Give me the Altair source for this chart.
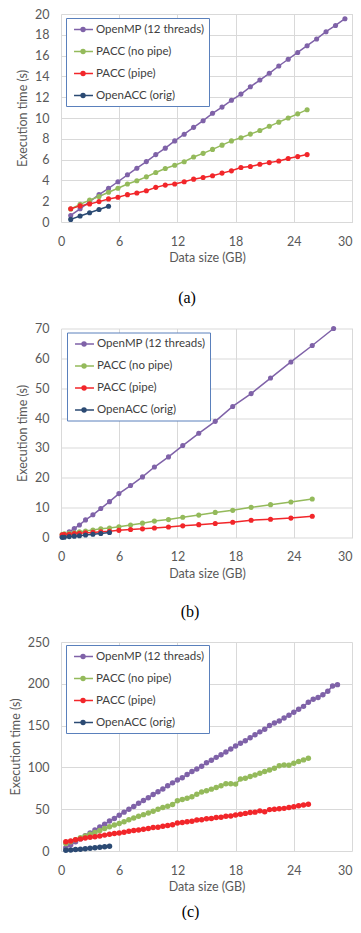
import altair as alt
import pandas as pd

SERIES = ["OpenMP (12 threads)", "PACC (no pipe)", "PACC (pipe)", "OpenACC (orig)"]
COLORS = ["#7F62A8", "#94BA5B", "#F2262A", "#2B4A73"]

# ---------------- panel (a) ----------------
a_x = [1.0, 1.97, 2.95, 3.92, 4.9, 5.87, 6.85, 7.82, 8.8, 9.77, 10.75, 11.72, 12.7, 13.67,
       14.65, 15.62, 16.6, 17.57, 18.55, 19.52, 20.5, 21.47, 22.45, 23.42, 24.4, 25.37,
       26.35, 27.32, 28.3, 29.27]
a_openmp = [0.63, 1.27, 1.96, 2.63, 3.23, 3.87, 4.54, 5.17, 5.81, 6.48, 7.1, 7.8, 8.44, 9.1,
            9.74, 10.45, 11.05, 11.7, 12.3, 13.0, 13.65, 14.3, 15.0, 15.65, 16.3, 16.95,
            17.6, 18.3, 18.9, 19.55]
a_nopipe = [1.25, 1.7, 2.1, 2.45, 2.86, 3.24, 3.65, 3.96, 4.34, 4.76, 5.14, 5.46, 5.8, 6.25,
            6.6, 6.98, 7.39, 7.8, 8.1, 8.45, 8.8, 9.2, 9.6, 10.0, 10.4, 10.8]
a_pipe = [1.27, 1.55, 1.74, 1.96, 2.22, 2.38, 2.63, 2.79, 3.01, 3.33, 3.55, 3.65, 3.87, 4.12,
          4.28, 4.44, 4.7, 4.92, 5.24, 5.33, 5.55, 5.71, 5.87, 6.1, 6.29, 6.48]
a_orig = [0.25, 0.57, 0.89, 1.2, 1.52]

# ---------------- panel (b) ----------------
b_x = [0.12, 0.34, 0.85, 1.37, 1.9, 2.53, 3.29, 4.1, 5.0, 5.97, 7.17, 8.4, 9.63, 11.08,
       12.55, 14.2, 15.9, 17.7, 19.6, 21.6, 23.7, 25.9, 28.1]
b_openmp = [0.3, 0.8, 1.9, 3.0, 4.2, 5.9, 7.6, 9.7, 12.0, 14.7, 17.4, 20.3, 23.6, 27.0,
            30.8, 34.9, 38.9, 43.9, 48.2, 53.4, 58.8, 64.3, 70.0]
b_nopipe = [1.0, 1.2, 1.4, 1.6, 1.9, 2.2, 2.5, 2.9, 3.2, 3.6, 4.2, 4.8, 5.5, 6.0, 6.8, 7.5,
            8.4, 9.1, 10.1, 11.0, 11.9, 12.9]
b_pipe = [0.9, 1.0, 1.1, 1.3, 1.4, 1.6, 1.7, 1.9, 2.1, 2.4, 2.7, 2.9, 3.2, 3.5, 3.9, 4.3,
          4.7, 5.1, 5.8, 6.1, 6.5, 7.1]
b_orig = [0.05, 0.1, 0.3, 0.45, 0.6, 0.85, 1.1, 1.35, 1.65]

# ---------------- panel (c) ----------------
c_x = [0.5, 1.0, 1.5, 2.0, 2.5, 3.0, 3.5, 4.0, 4.5, 5.0, 5.5, 6.0, 6.5, 7.0, 7.5, 8.0, 8.5,
       9.0, 9.5, 10.0, 10.5, 11.0, 11.5, 12.0, 12.5, 13.0, 13.5, 14.0, 14.5, 15.0, 15.5,
       16.0, 16.5, 17.0, 17.5, 18.0, 18.5, 19.0, 19.5, 20.0, 20.5, 21.0, 21.5, 22.0, 22.5,
       23.0, 23.5, 24.0, 24.5, 25.0, 25.5, 26.0, 26.5, 27.0, 27.5, 28.0, 28.5]
c_openmp = [4.0, 7.5, 11.0, 14.5, 18.2, 21.5, 25.0, 28.8, 32.0, 35.8, 39.0, 42.8, 46.5, 50.0,
            53.2, 57.0, 60.3, 63.8, 67.5, 71.0, 74.2, 78.0, 81.5, 85.0, 87.5, 91.5, 95.0,
            98.0, 101.5, 105.5, 108.5, 112.0, 115.0, 118.5, 122.0, 125.5, 129.0, 132.0,
            135.5, 139.0, 142.5, 145.5, 150.0, 153.0, 155.5, 159.0, 162.5, 166.0, 169.5,
            173.0, 178.0, 181.5, 183.5, 187.0, 191.0, 197.5, 199.0]
c_nopipe = [9.0, 11.0, 13.5, 16.0, 18.0, 20.0, 22.0, 24.5, 27.0, 29.0, 31.0, 33.0, 35.0,
            37.5, 39.5, 41.5, 43.5, 45.5, 47.5, 50.0, 52.0, 53.5, 55.5, 60.0, 61.5, 63.0,
            65.0, 68.0, 70.5, 72.0, 74.0, 76.0, 78.0, 80.5, 80.5, 80.0, 86.0, 87.0, 89.0,
            91.0, 93.0, 95.0, 97.0, 99.0, 102.0, 103.0, 102.5, 105.0, 107.0, 109.0, 111.0]
c_pipe = [11.0, 12.0, 13.5, 14.5, 15.5, 16.5, 17.0, 18.0, 19.0, 20.0, 21.0, 21.5, 22.5,
          23.5, 24.5, 25.0, 26.0, 27.0, 28.0, 28.5, 29.5, 30.5, 31.5, 33.5, 34.0, 35.0,
          35.5, 37.0, 37.5, 38.5, 39.0, 40.0, 40.5, 41.5, 42.0, 43.0, 44.0, 45.0, 46.0,
          46.5, 48.0, 47.0, 49.5, 50.0, 50.5, 51.0, 52.0, 53.0, 54.0, 55.0, 56.0]
c_orig = [0.8, 1.2, 1.7, 2.2, 2.7, 3.3, 3.8, 4.4, 5.0, 5.6]

X_TICKS = [0, 6, 12, 18, 24, 30]
FONT = "Lato"
GRAY = "#595959"

# legend symbol: short line with a (filled-looking) dot
SYMBOL = ("M-0.58,0L2.58,0"
          "M1.25,0A0.33,0.33,0,1,1,0.59,0A0.33,0.33,0,1,1,1.25,0"
          "M1.05,0A0.13,0.13,0,1,1,0.79,0A0.13,0.13,0,1,1,1.05,0")


def make_df(xs, lists):
    rows = []
    for k, (name, ys) in enumerate(zip(SERIES, lists)):
        for x, y in zip(xs, ys):
            rows.append({"series": name, "k": k, "x": x, "y": y})
    return pd.DataFrame(rows)


def panel(xs, lists, ymax, ystep, xmax, width, height, caption, cap_offset, cap_dx,
          lx, ly, psize, ylabpad):
    df = make_df(xs, lists)
    legend = alt.Legend(
        title=None, orient="none", legendX=lx, legendY=ly, direction="vertical",
        fillColor="white", strokeColor="#5A80BC", padding=4.5, rowPadding=9,
        symbolType=SYMBOL, symbolSize=144, symbolStrokeWidth=1.5,
        labelFont=FONT, labelFontSize=11.5, labelColor="#404040", labelOffset=11.5,
        labelLimit=300, cornerRadius=0,
    )
    return alt.Chart(df).mark_line(
        strokeWidth=1.5,
        point=alt.OverlayMarkDef(filled=True, size=psize, opacity=1),
    ).encode(
        x=alt.X("x:Q", scale=alt.Scale(domain=[0, xmax], nice=False, zero=True),
                axis=alt.Axis(values=X_TICKS, title="Data size (GB)", labelPadding=13,
                              titlePadding=4,
                              labelAlign={"condition": {"test": "datum.value == 30",
                                                        "value": "right"},
                                          "value": "center"})),
        y=alt.Y("y:Q", scale=alt.Scale(domain=[0, ymax], nice=False),
                axis=alt.Axis(values=list(range(0, ymax + 1, ystep)),
                              title="Execution time (s)", labelPadding=ylabpad,
                              titlePadding=5)),
        color=alt.Color("series:N", scale=alt.Scale(domain=SERIES, range=COLORS),
                        legend=legend),
    ).properties(
        width=width, height=height,
        title=alt.TitleParams(caption, orient="bottom", font="Liberation Serif",
                              fontSize=16, fontWeight="normal", color="#000000",
                              offset=cap_offset, dx=cap_dx),
    )


pa = panel(a_x, [a_openmp, a_nopipe, a_pipe, a_orig], 20, 2, 30.1, 292, 208,
           "(a)", 26, -20, 5, 4, 26, 12)
pb = panel(b_x, [b_openmp, b_nopipe, b_pipe, b_orig], 70, 10, 30.1, 292, 209,
           "(b)", 24, -17, 6, 4, 26, 12)
pc = panel(c_x, [c_openmp, c_nopipe, c_pipe, c_orig], 250, 50, 30.0, 291, 209,
           "(c)", 11, -16, 5, 3, 30, 12)

chart = alt.vconcat(pa, pb, pc, spacing=16.5).resolve_legend(
    color="independent"
).properties(
    padding={"left": 1, "top": 0, "right": 0, "bottom": 0},
).configure_view(strokeWidth=0).configure_axis(
    grid=True, gridColor="#D9D9D9", gridWidth=1, domain=False, ticks=False, tickSize=0,
    labelFont=FONT, labelFontSize=12.5, labelColor=GRAY,
    titleFont=FONT, titleFontSize=12.5, titleFontWeight="normal", titleColor=GRAY,
)

chart.save("out.html", embed_options={"renderer": "svg", "actions": False})
